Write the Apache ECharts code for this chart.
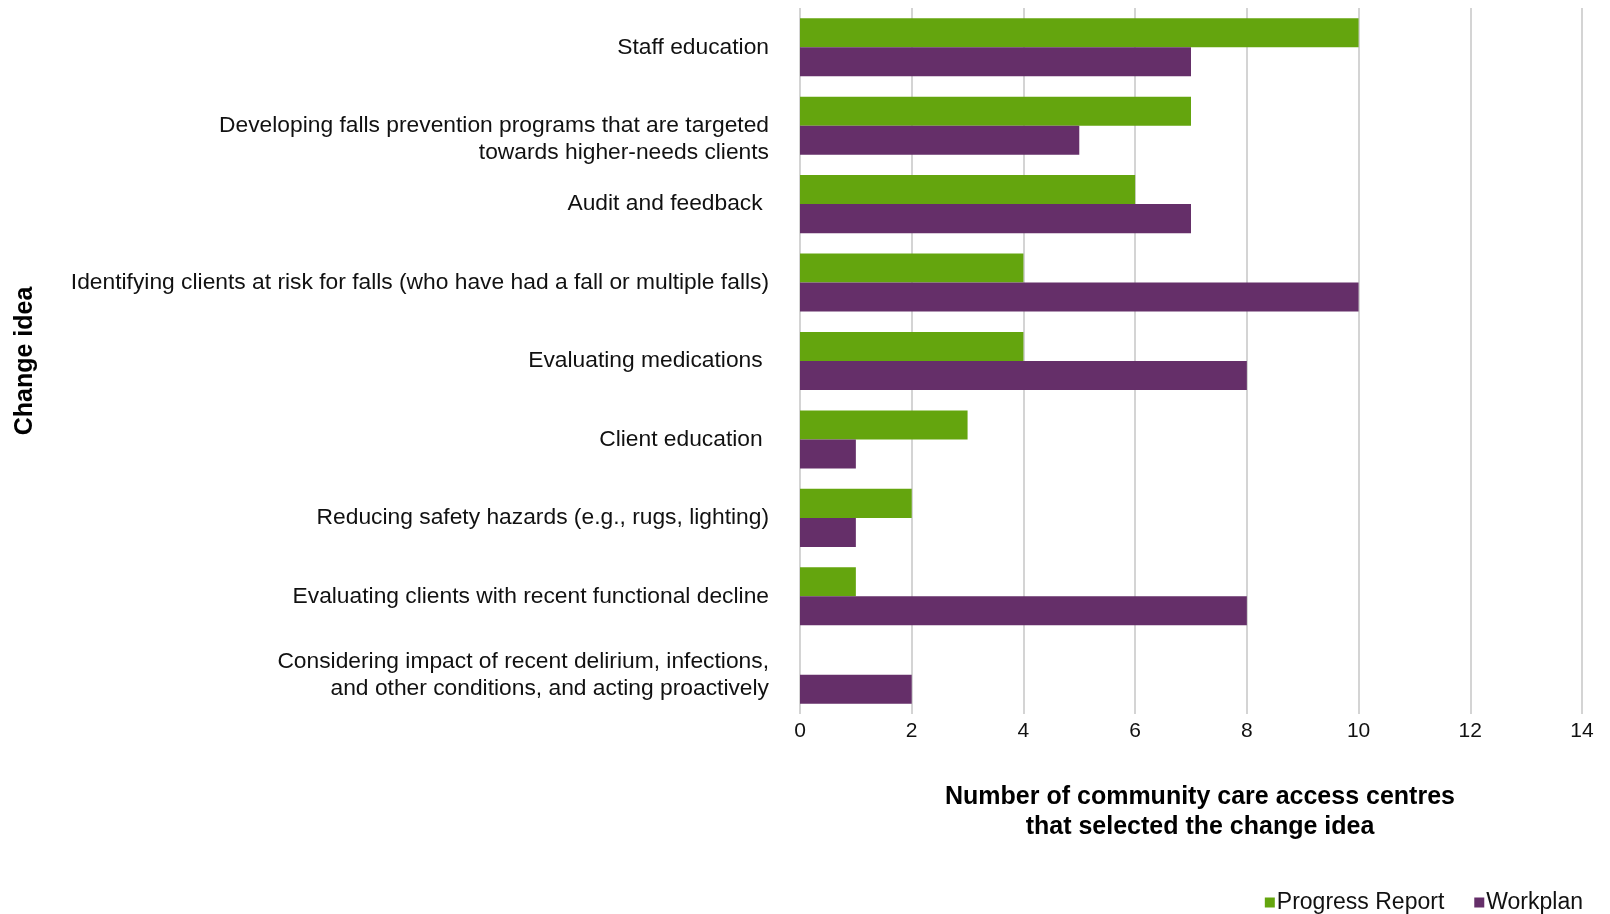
<!DOCTYPE html>
<html>
<head>
<meta charset="utf-8">
<script src="https://cdn.jsdelivr.net/npm/echarts@6/dist/echarts.min.js"></script>
<style>
  html, body { margin: 0; padding: 0; background: #fff; }
  #chart { width: 1610px; height: 914px; }
</style>
</head>
<body>
<div id="chart"></div>
<script>
const categories = [
  'Staff education',
  'Developing falls prevention programs that are targeted\ntowards higher-needs clients',
  'Audit and feedback ',
  'Identifying clients at risk for falls (who have had a fall or multiple falls)',
  'Evaluating medications ',
  'Client education ',
  'Reducing safety hazards (e.g., rugs, lighting)',
  'Evaluating clients with recent functional decline',
  'Considering impact of recent delirium, infections,\nand other conditions, and acting proactively'
]
const progressReport = [10, 7, 6, 4, 4, 3, 2, 1, 0]
const workplan = [7, 5, 7, 10, 8, 1, 1, 8, 2]

const font = '"Liberation Sans", Arial, sans-serif'
const chart = echarts.init(document.getElementById('chart'))

chart.setOption({
  animation: false,
  textStyle: { fontFamily: font },
  grid: { left: 800, right: 28, top: 8, bottom: 200, containLabel: false },
  legend: {
    right: 22,
    bottom: -5,
    itemWidth: 10,
    itemHeight: 10,
    itemGap: 30,
    icon: 'rect',
    textStyle: { fontSize: 23, color: '#111', fontFamily: font, padding: [0, 0, 0, -3] },
    data: ['Progress Report', 'Workplan']
  },
  xAxis: {
    type: 'value',
    min: 0,
    max: 14,
    interval: 2,
    name: 'Number of community care access centres\nthat selected the change idea',
    nameLocation: 'middle',
    nameGap: 68,
    nameTextStyle: { fontSize: 25, fontWeight: 'bold', color: '#000', lineHeight: 30, padding: [0, 0, 0, 18] },
    axisLine: { show: false },
    axisTick: { show: false },
    axisLabel: { fontSize: 21, color: '#111', margin: 7 },
    splitLine: { lineStyle: { color: '#d4d4d4', width: 2 } }
  },
  yAxis: {
    type: 'category',
    inverse: true,
    data: categories,
    name: 'Change idea',
    nameLocation: 'middle',
    nameGap: 762,
    nameRotate: 90,
    nameTextStyle: { fontSize: 25, fontWeight: 'bold', color: '#000' },
    axisLine: { show: false },
    axisTick: { show: false },
    axisLabel: {
      fontSize: 22.8,
      color: '#111',
      margin: 31,
      align: 'right',
      lineHeight: 27,
      // the second label sits lower than its bars in the original
      formatter: (v, i) => (i === 1 ? '\n' + v : v)
    }
  },
  series: [
    {
      name: 'Progress Report',
      type: 'bar',
      data: progressReport,
      barGap: '0%',
      barCategoryGap: '26%',
      itemStyle: { color: '#64A50E' }
    },
    {
      name: 'Workplan',
      type: 'bar',
      data: workplan,
      itemStyle: { color: '#652F69' }
    }
  ]
})
</script>
</body>
</html>
